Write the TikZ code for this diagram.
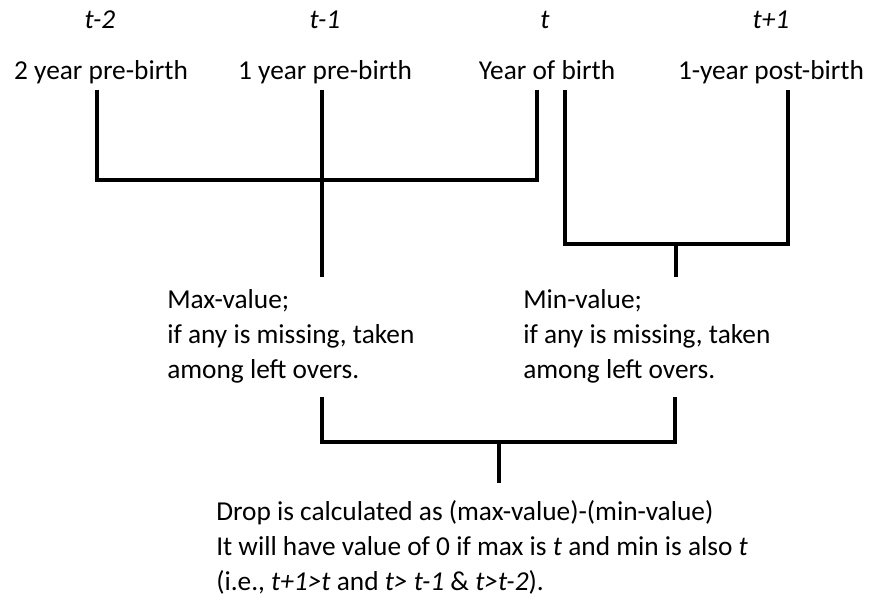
\documentclass[tikz,border=0pt]{standalone}
\usepackage{fontspec}
\setmainfont{Carlito}
\tikzset{
  yearlab/.style={font=\fontsize{20.5}{26}\selectfont, inner sep=0pt, anchor=base},
  note/.style={font=\fontsize{20.5}{26.25}\selectfont, inner sep=0pt, align=left, anchor=north west},
  bracket/.style={line width=2.5pt}
}
\begin{document}
\begin{tikzpicture}[x=0.75pt,y=-0.75pt]
        \useasboundingbox (0,0) rectangle (870,605);
        % time points
        \node[yearlab] (tm2) at (100,29) {\textit{t-2}};
        \node[yearlab] (tm1) at (325,29) {\textit{t-1}};
        \node[yearlab] (t0) at (545,29) {\textit{t}};
        \node[yearlab] (tp1) at (771,29) {\textit{t+1}};
        \node[yearlab] (pre2) at (101,80) {2 year pre-birth};
        \node[yearlab] (pre1) at (325,80) {1 year pre-birth};
        \node[yearlab] (yob) at (547,80) {Year of birth};
        \node[yearlab] (post1) at (771,80) {1-year post-birth};
        % line ends under the years
        \coordinate (a2) at (97,90);
        \coordinate (a1) at (322,90);
        \coordinate (a0) at (537,90);
        \coordinate (b0) at (565,90);
        \coordinate (b1) at (788,90);
        \coordinate (maxjoin) at (322,180);
        \coordinate (maxend) at (322,277);
        \coordinate (minjoin) at (676,244);
        \coordinate (minend) at (676,277);
        \draw[bracket] (a2) |- (maxjoin) -| (a0);
        \draw[bracket] (a1) -- (maxend);
        \draw[bracket] (b0) |- (minjoin) -| (b1);
        \draw[bracket] (minjoin) -- (minend);
        % max and min
        \node[note] (maxval) at (167,289) {Max-value;\\if any is missing, taken\\among left overs.};
        \node[note] (minval) at (523,289) {Min-value;\\if any is missing, taken\\among left overs.};
        \coordinate (maxout) at (322,397);
        \coordinate (minout) at (675,397);
        \coordinate (dropjoin) at (499,442);
        \coordinate (dropend) at (499,483);
        \draw[bracket] (maxout) |- (dropjoin) -| (minout);
        \draw[bracket] (dropjoin) -- (dropend);
        % the drop
        \node[note] (drop) at (216,500)
          {Drop is calculated as (max-value)-(min-value)\\
           It will have value of 0 if max is \textit{t} and min is also \textit{t}\\
           (i.e., \textit{t+1>t} and \textit{t> t-1} \& \textit{t>t-2}).};
    \end{tikzpicture}
\end{document}
